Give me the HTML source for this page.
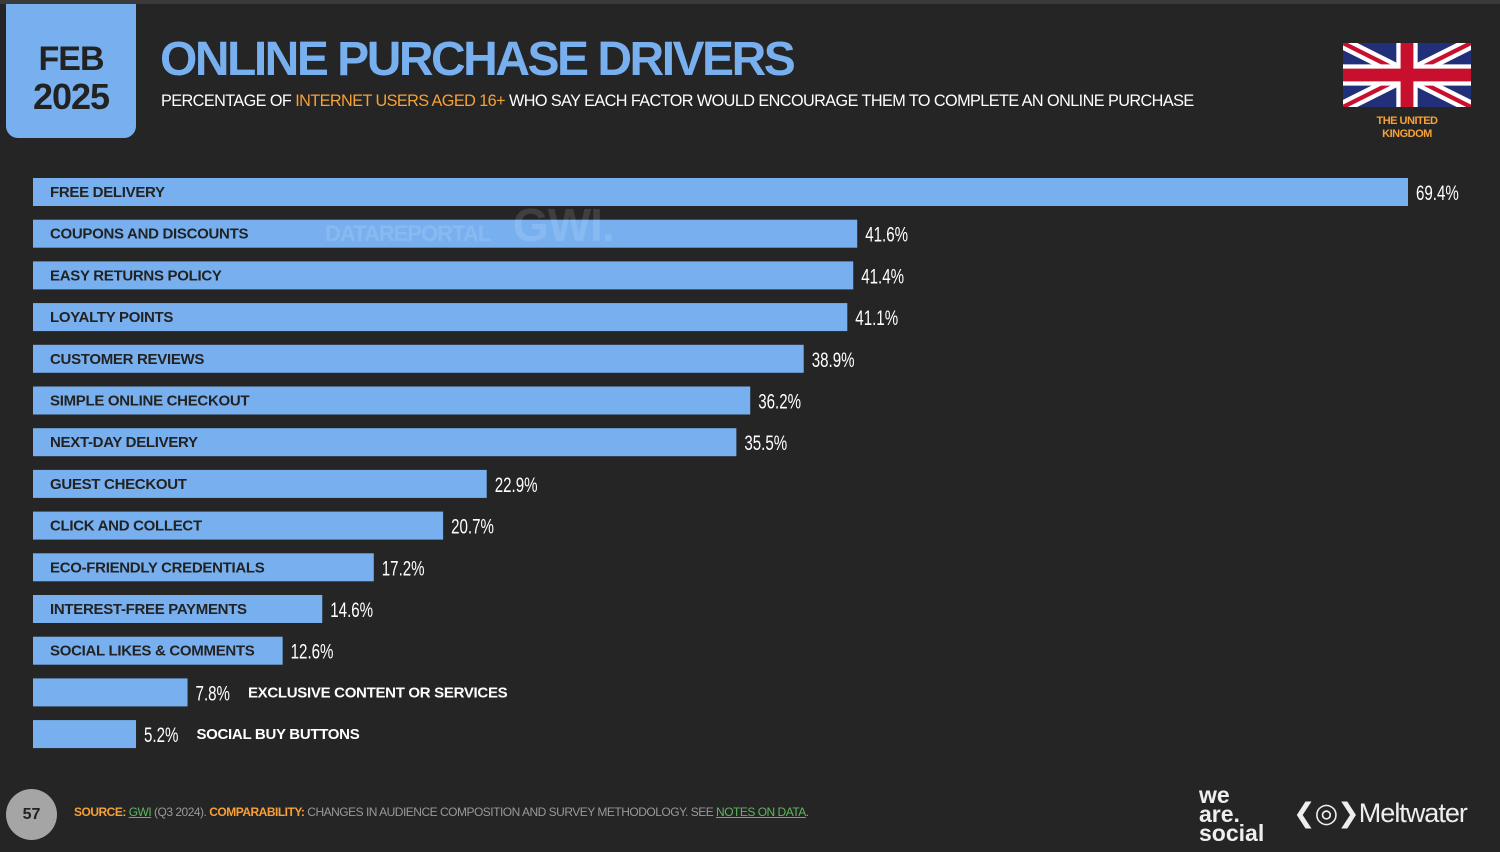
<!DOCTYPE html>
<html><head><meta charset="utf-8"><style>
body{margin:0;width:1500px;height:852px;background:#252525;overflow:hidden;font-family:"Liberation Sans",sans-serif;position:relative}
.abs{position:absolute}
</style></head><body>
<div class="abs" style="left:0;top:0;width:1500px;height:4px;background:#3a3a3a"></div>
<div class="abs" style="left:6px;top:4px;width:130px;height:134px;background:#78b0ef;border-radius:0 0 12px 12px;text-align:center;color:#222;font-weight:bold;font-size:36px;line-height:38px;letter-spacing:-1px"><div style="margin-top:36px;font-size:34px">FEB</div><div>2025</div></div>
<div class="abs" style="left:160px;top:32px;font-size:48px;font-weight:bold;color:#78b0ef;letter-spacing:-2.5px;white-space:nowrap">ONLINE PURCHASE DRIVERS</div>
<div class="abs" style="left:161px;top:91px;font-size:17px;color:#fff;letter-spacing:-0.6px;white-space:nowrap;transform:scaleX(0.955);transform-origin:left">PERCENTAGE OF <span style="color:#f7a136">INTERNET USERS AGED 16+</span> WHO SAY EACH FACTOR WOULD ENCOURAGE THEM TO COMPLETE AN ONLINE PURCHASE</div>
<svg class="abs" style="left:1343px;top:43px" width="128" height="64" viewBox="0 0 60 30"><clipPath id="c"><rect width="60" height="30"/></clipPath><g clip-path="url(#c)"><rect width="60" height="30" fill="#22307a"/><path d="M0,0L60,30M60,0L0,30" stroke="#fff" stroke-width="6"/><path d="M0,0L60,30M60,0L0,30" stroke="#c8102e" stroke-width="2"/><path d="M30,0V30M0,15H60" stroke="#fff" stroke-width="10"/><path d="M30,0V30M0,15H60" stroke="#c8102e" stroke-width="6"/></g></svg>
<div class="abs" style="left:1357px;top:115px;width:100px;text-align:center;font-size:11px;font-weight:bold;color:#f7a136;line-height:13px;letter-spacing:-0.5px">THE UNITED<br>KINGDOM</div>
<svg class="abs" id="chart" style="left:0;top:0" width="1500" height="852"></svg>
<div class="abs" style="left:325px;top:198px;color:rgba(255,255,255,0.12);font-weight:bold;font-size:22px;letter-spacing:-1px;white-space:nowrap">DATAREPORTAL <span style="font-size:46px;margin-left:18px">GWI.</span></div>
<div class="abs" style="left:6px;top:789px;width:51px;height:51px;border-radius:50%;background:#a5a5a5;color:#222;font-weight:bold;font-size:16px;line-height:51px;text-align:center">57</div>
<div class="abs" style="left:74px;top:805px;font-size:12px;color:#999;letter-spacing:-0.5px;white-space:nowrap"><b style="color:#f7a136">SOURCE:</b> <span style="color:#5cb85c;text-decoration:underline">GWI</span> (Q3 2024). <b style="color:#f7a136">COMPARABILITY:</b> CHANGES IN AUDIENCE COMPOSITION AND SURVEY METHODOLOGY. SEE <span style="color:#5cb85c;text-decoration:underline">NOTES ON DATA</span>.</div>
<div class="abs" style="left:1199px;top:786px;color:#eee;font-weight:bold;font-size:23px;line-height:19px">we<br>are.<br>social</div>
<div class="abs" style="left:1293px;top:798px;color:#eee;font-size:27px;letter-spacing:-1px;white-space:nowrap">❮◎❯Meltwater</div>
<script>
const categories=["FREE DELIVERY","COUPONS AND DISCOUNTS","EASY RETURNS POLICY","LOYALTY POINTS","CUSTOMER REVIEWS","SIMPLE ONLINE CHECKOUT","NEXT-DAY DELIVERY","GUEST CHECKOUT","CLICK AND COLLECT","ECO-FRIENDLY CREDENTIALS","INTEREST-FREE PAYMENTS","SOCIAL LIKES & COMMENTS","EXCLUSIVE CONTENT OR SERVICES","SOCIAL BUY BUTTONS"];
const values=[69.4,41.6,41.4,41.1,38.9,36.2,35.5,22.9,20.7,17.2,14.6,12.6,7.8,5.2];
const valueLabels=["69.4%","41.6%","41.4%","41.1%","38.9%","36.2%","35.5%","22.9%","20.7%","17.2%","14.6%","12.6%","7.8%","5.2%"];
const svg=document.getElementById('chart');
const NS='http://www.w3.org/2000/svg';
const x0=33,pxPer=1375/69.4;
function xs(v){return x0+v*pxPer;}
function ys(i){return 178+i*41.7;}
categories.forEach((c,i)=>{
 const w=xs(values[i])-x0,y=ys(i);
 const r=document.createElementNS(NS,'rect');
 r.setAttribute('x',x0);r.setAttribute('y',y);r.setAttribute('width',w);r.setAttribute('height',28);r.setAttribute('fill','#78b0ef');
 
 
 svg.appendChild(r);
 const inside=w>200;
 const vx=xs(values[i])+8;
 const v=document.createElementNS(NS,'text');
 v.setAttribute('x',0);v.setAttribute('y',0);v.setAttribute('fill','#fff');v.setAttribute('font-size','21');v.setAttribute('font-family','Liberation Sans Narrow, Liberation Sans, sans-serif');
 v.setAttribute('transform','translate('+vx+','+(y+22)+') scale(0.72,1)');
 v.textContent=valueLabels[i];
 
 
 svg.appendChild(v);
 const vw=v.getComputedTextLength()*0.72;
 const t=document.createElementNS(NS,'text');
 t.setAttribute('x',inside?50:vx+vw+18);
 t.setAttribute('y',y+19);t.setAttribute('fill',inside?'#222':'#fff');t.setAttribute('font-size','15');t.setAttribute('font-weight','bold');t.setAttribute('font-family','Liberation Sans, sans-serif');t.setAttribute('letter-spacing','-0.3');
 t.textContent=c;
 
 
 svg.appendChild(t);
});
</script>
</body></html>
